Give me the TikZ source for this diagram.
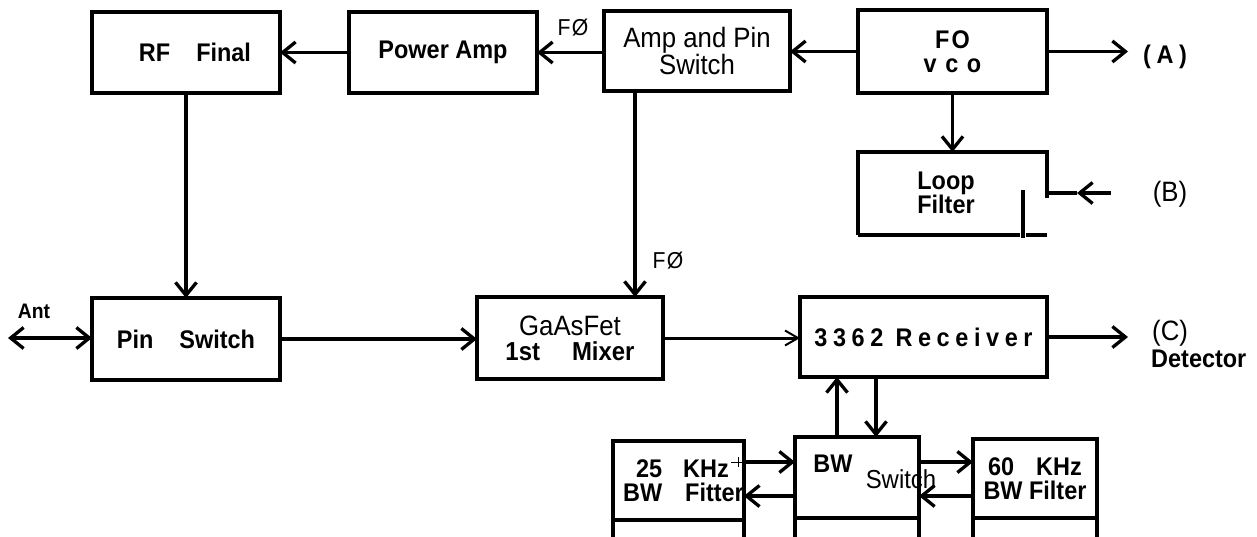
\documentclass[tikz,border=0pt]{standalone}
\usepackage{fontspec}
\setmainfont[FakeStretch=0.92]{Liberation Sans}
\newfontfamily\spaced[FakeStretch=0.92,LetterSpace=22]{Liberation Sans}
\newfontfamily\lspaced[FakeStretch=0.92,LetterSpace=8]{Liberation Sans}
\newfontfamily\fspaced[FakeStretch=0.92,LetterSpace=6]{Liberation Sans}
\usetikzlibrary{arrows.meta}
\begin{document}
\begin{tikzpicture}[x=1pt,y=-1pt,
  box/.style n args={2}{draw, line width=3.5pt, minimum width=#1, minimum height=#2, inner sep=0pt, outer sep=0pt, align=center},
  bf/.style={font=\fontsize{25.5}{24}\selectfont\bfseries},
  rg/.style={font=\fontsize{28}{24}\selectfont},
  lbl/.style={inner sep=0pt},
  ln/.style={line width=3.3pt},
  con/.style={line width=3.3pt, -{Straight Barb[length=13pt,width=21pt,line width=3.3pt]}},
  dcon/.style={line width=3.3pt, {Straight Barb[length=13pt,width=21pt,line width=3.3pt]}-{Straight Barb[length=13pt,width=21pt,line width=3.3pt]}},
  tcon/.style={line width=3pt, -{Straight Barb[length=13pt,width=15pt,line width=2pt]}}]
\useasboundingbox (0,0) rectangle (1257,536);

% top row
\node[box={188pt}{81pt}, bf] (rf) at (186,52.5) {\hspace*{18pt}RF\hspace{26pt}Final};
\node[box={188pt}{81pt}, bf] (pa) at (443,52.5) {Power Amp};
\node[box={186pt}{80pt}, rg] (amp) at (697,51) {Amp and Pin\\Switch};
\node[box={189pt}{83pt}, bf] (fo) at (952.5,51.5) {\lspaced\bfseries FO\\\lspaced\bfseries v c o};

% loop filter
\node[minimum width=189pt, minimum height=83pt, inner sep=0pt, outer sep=0pt] (loop) at (952.5,193.5) {};
\node[bf, align=center, lbl] (looptxt) at (946,193) {Loop\\Filter};
\draw[line width=3.5pt] (loop.south west) -- (loop.north west) -- (loop.north east) -- ++(0,46);
\draw[line width=3.5pt] (loop.south west) -- (1020,235);
\draw[line width=3.5pt] (1023,190) -- (1023,238);
\draw[line width=3.5pt] (1026,235) -- (loop.south east);

% middle row
\node[box={188pt}{82pt}, bf] (pin) at (186,339) {Pin\hspace{26pt}Switch};
\node[box={186pt}{82pt}, font=\fontsize{28}{25}\selectfont] (gaas) at (570,338) {GaAsFet\\{\fontsize{26}{25}\selectfont\bfseries 1st\hspace{32pt}Mixer}};
\node[box={247pt}{80pt}, font=\fontsize{25.5}{24}\spaced\bfseries] (rcv) at (923.5,337) {3362 Receiver};

% bottom row
\node[box={123pt}{79pt}, bf] (f25) at (678.5,480.5) {\hspace*{8pt}25\hspace{21pt}KHz\\\hspace*{10pt}BW\hspace{23pt}Fitter};
\node[box={124pt}{81pt}] (bws) at (857,477.5) {};
\node[box={124pt}{79pt}, bf] (f60) at (1035,478.5) {60\hspace{22pt}KHz\\BW Filter};
\node[bf, lbl] (bwt) at (833,464) {BW};
\node[lbl, font=\fontsize{26}{24}\selectfont] (swt) at (901,479) {Switch};
\foreach \b in {f25,bws,f60}{
  \draw[line width=3.5pt] (\b.south west) -- ++(0,22);
  \draw[line width=3.5pt] (\b.south east) -- ++(0,22);
}

% labels
\node[lbl, font=\fontsize{23}{23}\fspaced] (fo1) at (573,28) {FØ};
\node[lbl, font=\fontsize{23}{23}\fspaced] (fo2) at (668,261) {FØ};
\node[lbl, font=\fontsize{21}{21}\selectfont\bfseries] (anttxt) at (34,311) {Ant};
\node[lbl, font=\fontsize{25.5}{24}\spaced\bfseries] (atxt) at (1165,57) {(A)};
\node[lbl, rg] (btxt) at (1170,194) {(B)};
\node[lbl, rg, anchor=west] (ctxt) at (1152,333) {(C)};
\node[lbl, bf, anchor=west] (dtxt) at (1151,359) {Detector};

% coordinates
\coordinate (A) at (1128,52);
\coordinate (Bin) at (1111,193);
\coordinate (Bmid) at (1077,193);
\coordinate (fx) at (635,0);
\coordinate (ant) at (8,338);
\coordinate (C) at (1128,337);
\coordinate (up) at (837,0);
\coordinate (dn) at (876,0);
\coordinate (r1) at (0,462);
\coordinate (r2) at (0,496);

% connectors
\draw[con] (pa.west) -- (rf.east);
\draw[con] (amp.west |- pa.west) -- (pa.east);
\draw[con] (fo.west) -- (fo.west -| amp.east);
\draw[con] (fo.east) -- (fo.east -| A);
\draw[con] (fo.south) -- (loop.north);
\draw[con] (Bin) -- (Bmid);
\draw[ln] (Bmid) -- (Bmid -| loop.east);
\draw[con] (rf.south) -- (pin.north);
\draw[con] (amp.south -| fx) -- (gaas.north -| fx);
\draw[dcon] (ant) -- (ant -| pin.west);
\draw[con] (pin.east) -- (pin.east -| gaas.west);
\draw[tcon] (gaas.east) -- (gaas.east -| rcv.west);
\draw[con] (rcv.east) -- (rcv.east -| C);
\draw[con] (bws.north -| up) -- (rcv.south -| up);
\draw[con] (rcv.south -| dn) -- (bws.north -| dn);
\draw[con] (f25.east |- r1) -- (bws.west |- r1);
\draw[con] (bws.west |- r2) -- (f25.east |- r2);
\draw[con] (bws.east |- r1) -- (f60.west |- r1);
\draw[con] (f60.west |- r2) -- (bws.east |- r2);
\draw[line width=1pt] (731,462) -- (744,462) (738,457) -- (738,467);
\end{tikzpicture}
\end{document}
